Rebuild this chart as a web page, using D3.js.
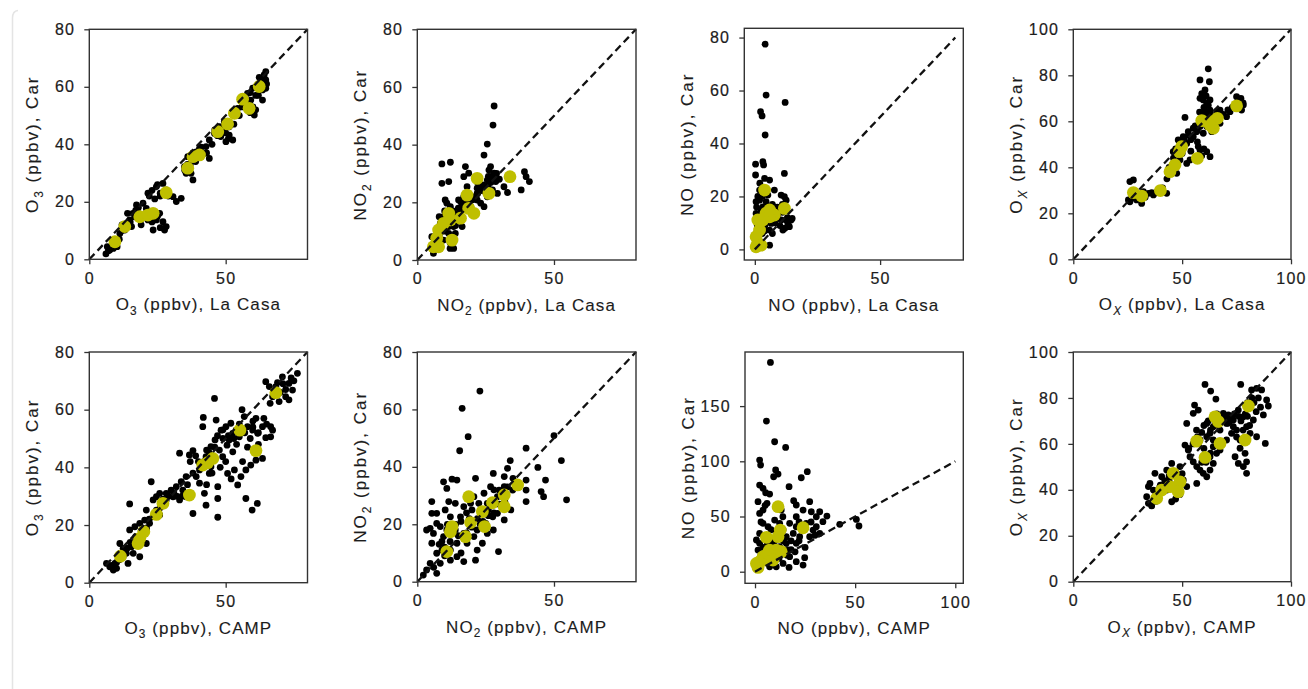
<!DOCTYPE html>
<html>
<head>
<meta charset="utf-8">
<script src="https://cdn.jsdelivr.net/npm/d3@7"></script>
<style>
  html, body { margin: 0; padding: 0; background: #fff; }
  svg { display: block; }
  text { font-family: "Liberation Sans", Arial, sans-serif; fill: #1c1c1c; }
</style>
</head>
<body>
<svg id="chart" width="1308" height="689"></svg>
<script>
// ---------- DATA ----------
// Panel 1: O3, La Casa (x) vs Car (y)
const o3LaCasaAll = [[6.1,1.9],[7.5,3.2],[8.8,3.8],[10.2,4.4],[6.6,4.4],[11.2,9],[13,10.2],[14.8,13.7],[16.7,14.8],[15.5,11.4],
  [17.3,18.9],[19.7,19.5],[20.9,17.7],[22.7,16],[24.6,13.7],[25.8,16],[27,13.1],[28.2,11.4],[27.6,10.2],[23.4,10.2],[21.5,13.7],
  [21.5,23],[24.6,25.3],[27,26.4],[28.2,24.1],[30.7,21.8],[31.9,20.1],[33.7,21.2],[34.9,32.2],[36.1,35.7],[38,27.6],[39.2,37.4],
  [40.4,38.6],[42.2,36.9],[44,35.1],[42.8,39.2],[37.3,29.9],[35.5,29.9],[44,41.5],[45.9,43.8],[47.7,46.1],[49.5,47.9],[51.3,46.1],
  [51.3,43.2],[52.6,41.5],[50.1,40.9],[48.2,42.7],[52.6,50.8],[54.4,52.5],[56.2,55.4],[58,57.7],[59.9,59.5],[59.2,55.4],[59.9,51.9],
  [60.5,50.2],[58,53.1],[61,60],[62.9,61.8],[64.1,64.1],[64.7,62.4],[63.5,58.9],[63.5,55.4],[64.7,59.5],[62.3,63.3],[64.7,65.3],
  [12,12],[14,16],[18,16],[19,14],[24,21],[26,22],[37,33],[39,34],[41,36],[46,45],[48,44],[55,50],[57,54],[61,57],[63,60],
  [7,3],[9,5],[11,7],[12,10],[13,12],[15,13],[16,16],[17,17],[18,18],[20,15],[22,14],[23,13],[25,15],[26,11],[19,12],[22,22],
  [23,24],[25,26],[26,23],[29,22],[35,31],[36,33],[37,36],[38,37],[40,37],[41,39],[43,37],[45,40],[47,43],[49,46],[50,44],
  [51,42],[53,47],[54,51],[56,53],[57,56],[58,55],[59,58],[60,53],[61,52],[62,61],[63,62],[64,63],[65,61],[62,57],[59,51]];
const o3LaCasaMean = [[9.4,6.1],[13,11.4],[18.5,14.8],[21.5,15.4],[23.4,16],[28.2,23.2],[36.1,31.7],[38,35.7],[40.4,36.3],
  [47.1,44.4],[50.7,47.1],[53.2,50.8],[56.2,55.7],[58.6,52.5],[62.3,60.1]];

// Panel 2: NO2, La Casa vs Car
const no2LaCasaAll = [[28.1,53.4],[27.7,46.8],[25.6,40.2],[24.4,36.4],[9,33.3],[12.1,33.9],[17.6,32.4],[11.5,27.2],[9,26.6],[17,28.9],
  [18.8,30.1],[26.8,32.4],[28.1,30.1],[28.7,27.2],[29.3,23.1],[33,23.4],[38,24.3],[39.2,30.6],[39.8,28.9],[41,27.2],[31.7,25.4],
  [25.6,27.7],[23.8,25.4],[21.9,23.1],[19.9,20.8],[17.6,19.7],[15.8,16.2],[14.5,13.9],[13.3,11.6],[11.5,9.2],[9.6,6.9],[7.1,4.6],
  [5.9,2.3],[5.3,8.1],[7.1,10.4],[8.4,12.7],[9.6,15],[10.8,19.7],[10.2,20.8],[12.1,18.5],[13.3,4],[13.9,9.2],[16.4,11.6],[19.5,18.5],
  [21.9,20.8],[23.2,19.7],[24.4,18.5],[20.7,16.2],[17,22],[15.1,20.8],[12.1,15],[11.5,11.6],[25.6,21.9],[27.5,24.3],[26.2,31.2],
  [21.9,24.9],[18.2,25.4],[8,8],[10,10],[14,12],[15,14],[13,17],[16,18],[22,27],[27,29],[24,24],[30,28],[12,6],
  [6,5],[7,6],[8,9],[9,11],[10,13],[11,14],[12,12],[13,14],[14,16],[15,18],[16,20],[17,21],[18,19],[19,20],[20,22],[21,21],
  [22,23],[23,25],[24,26],[25,24],[26,26],[27,27],[28,28],[29,30],[26,29],[10,17],[8,15],[13,8],[12,4]];
const no2LaCasaMean = [[5.9,4.6],[7.8,4.6],[7.1,7.5],[7.8,10.4],[9.6,12.7],[11.5,16.2],[12.1,13.9],[12.7,6.9],[15.8,14.5],
  [18.8,17.9],[20.7,16.2],[18.2,22.5],[21.9,28.3],[26.2,23.1],[33.9,28.9]];

// Panel 3: NO, La Casa vs Car
const noLaCasaAll = [[4.1,77.5],[4.5,58.3],[12.1,55.5],[2.3,52],[2.9,50.4],[4.1,43.2],[0.3,32.2],[3.2,33.1],[3.5,31.9],[0.3,28.1],
  [11.8,28.7],[3.9,26.8],[5.9,26.2],[1.9,22.4],[7.8,22.4],[0.5,18],[1.9,18.6],[4.5,18],[10.5,20.5],[11.8,19.9],[12.5,18.6],[5.2,20.5],
  [0.5,13.6],[1.2,11.1],[1.9,7.3],[5.9,7.3],[6.5,9.8],[5.9,1.6],[10.5,11.1],[11.2,7.3],[13.2,9.8],[13.8,8.6],[14.5,11.1],[14.9,11.7],
  [9.2,13.6],[6.5,16.1],[3.2,16.1],[12.5,11.1],[2.5,15],[1,9],[3,6],[4,9],[8,10],[7,13],[9,16],[11,14],[0.8,4],[2,3],
  [0.5,6],[1.5,8],[2,12],[3,13],[4,11],[5,14],[6,15],[7,17],[8,16],[9,12],[10,9],[12,8],[13,12],[11,17],[0.7,16],[1.2,20],
  [3,20],[2,25],[6,12],[4,7],[7,6]];
const noLaCasaMean = [[3.9,22.4],[11.8,15.5],[7.8,13],[4.5,13.6],[5.9,12.3],[1.2,11.1],[1.9,7.3],[0.5,4.8],[1.2,2.3],[2.5,1.6],
  [0.5,1],[3.2,11.1],[5.9,14.9]];

// Panel 4: Ox, La Casa vs Car
const oxLaCasaAll = [[62,82.8],[58.2,78],[62.5,77.2],[60.5,73.6],[58.2,70],[59.7,69.3],[61.3,67.8],[62.8,69.3],[62.8,64.9],[60.5,64.2],
  [51.3,61.7],[55.1,57],[52.8,55.5],[50.5,53.3],[48.2,51.9],[52.1,50.4],[55.1,53.3],[56.6,55.5],[58.2,57.7],[59.7,54.8],[58.2,47.5],
  [61.3,46.8],[62.8,44.6],[57.4,49],[49,43.2],[52.1,41.7],[53.6,43.2],[45.9,41.7],[43.6,38.8],[47.5,37.4],[40.6,30.1],[42.9,28.7],
  [36.8,28],[34.5,28.7],[32.2,29.4],[29.1,25.8],[26.8,26.5],[25.3,25.8],[27.6,34.5],[26,33.8],[31.4,24.3],[75,70.7],[76.6,69.3],
  [78.1,67.1],[77.3,64.9],[72,64.2],[70.4,62],[67.4,64.9],[65.8,64.2],[65.1,57.7],[67.4,59.1],[63.6,55.5],[61.3,57.7],[49,49],
  [45.9,46.8],[54,52],[57,51],[60,62],[64,61],[43,35],[30,27],[38,29],
  [59,72],[61,71],[60,66],[62,67],[58,64],[61,62],[56,58],[57,56],[53,54],[51,52],[49,51],[47,48],[46,44],[44,40],[50,46],
  [54,47],[59,45],[60,48],[63,63],[66,62],[69,63],[73,66],[76,68],[77,70],[78,68],[71,65],[28,27],[30,28],[33,27],[36,29],
  [39,30],[41,31],[27,28],[26,25]];
const oxLaCasaMean = [[27.6,29],[31.4,27.5],[40,29.9],[44.4,38.1],[46.7,41],[48.7,46.8],[49.8,49],[57,43.9],[59,60.3],[63.6,59.9],
  [64.3,57],[66.2,61.3],[75,66.7],[62.8,58.4]];

// Panel 5: O3, CAMP vs Car
const o3CampAll = [[45.9,63.9],[41.8,57.3],[41.6,54.1],[33.1,44.9],[38,45.8],[36.7,44.3],[22.7,35],[14.8,27.3],[38,24],[47.1,22.7],
  [47.1,29.2],[47.1,33.3],[42.8,26.9],[42.2,31],[40.4,34.5],[39.2,36.8],[41,41.4],[42.8,43.7],[44.6,47.2],[46.1,49.5],[47.7,46],
  [48.9,43.7],[50.5,47.7],[51.3,49.5],[52.6,51.8],[46.5,56.4],[48.3,52.9],[50.1,54.1],[51.9,55.3],[53.8,52.9],[55,50.6],[56.8,57.6],
  [58,54.1],[59.9,52.9],[61.1,57],[61.7,51.8],[63.5,54.1],[64.7,50.3],[66.5,50.6],[67.2,52.9],[66.5,54.1],[67.2,64.5],[64.7,69.7],
  [68.4,68],[70.8,71.4],[73.2,69.1],[74.5,66.8],[76.3,72.6],[72,64.5],[73.2,63.4],[69.6,62.8],[66.3,62.2],[68.4,65.7],[69,69.4],
  [54.4,33.9],[55.6,36.8],[57.4,39.1],[59.2,40.8],[61.1,42.5],[63.5,43.1],[57.4,29.2],[61.6,27.5],[59.7,25.2],[56.2,42],[53.2,39.1],
  [50.7,37.9],[52.6,45.4],[44,37.9],[44.6,40.2],[40.4,39.1],[35.5,36.8],[33.7,35],[31.9,33.3],[30,32.1],[28.2,31],[30.7,29.8],
  [33.1,28.7],[35.5,29.8],[37.3,31],[34.3,32.1],[28.2,28.7],[26.4,27.5],[24.6,25.2],[23.4,22.9],[25.8,23.5],[22.1,20.6],[20.9,18.3],
  [19.7,17.1],[18.5,14.8],[16.7,13.6],[15.5,12.5],[13.6,10.2],[12.4,9],[10.6,7.9],[9.4,6.7],[7.5,5.5],[6.3,6.7],[8.8,4.4],[11.2,13.6],
  [12.4,11.9],[14.8,18.3],[16.7,19.4],[18.5,20.6],[20.3,21.7],[20.9,13.6],[18.5,9],[16.1,10.2],[14.2,6.7],[23.4,28.7],[24.6,29.8],
  [25.8,31],[20.9,25.2],[10,5],[11,8],[14,12],[17,16],[45,44],[43,46],[49,50],[54,48],[58,47],[62,48],[65,55],[60,56],[56,60],
  [8,6],[10,7],[12,10],[13,12],[15,14],[17,15],[19,18],[21,19],[22,22],[24,24],[26,26],[27,29],[29,30],[31,31],[32,30],[34,30],
  [36,34],[38,38],[40,42],[42,42],[44,45],[46,47],[47,51],[49,53],[51,51],[53,50],[55,55],[57,52],[59,50],[60,54],[62,52],
  [64,57],[66,68],[70,66],[71,69],[74,71],[75,70],[72,67],[48,40],[50,42],[52,36],[45,38],[43,34],[39,44],[37,42]];
const o3CampMean = [[11.4,9.2],[17.9,13.6],[18.5,15.4],[20,17.7],[24.6,23.7],[27,27.5],[36.7,30.4],[41.6,40.8],[43.4,41.6],
  [45.3,43.1],[55.2,52.9],[61.1,45.8],[68.4,65.9]];

// Panel 6: NO2, CAMP vs Car
const no2CampAll = [[22.9,66.4],[16.4,60.4],[18.6,50.5],[15.5,45.6],[39.8,46.5],[50,50.9],[52.7,42.2],[54.6,28.5],[46.9,35.4],[45.3,31.4],
  [46.2,29.6],[44.1,39.8],[39.8,35.4],[39.8,31.9],[39.8,27.9],[34,42.2],[33,39.5],[31.8,36.6],[29.9,31.9],[29.7,10.5],[27.8,37.7],
  [26.8,33.1],[21.3,36],[14.5,35.4],[12.7,35.7],[9.6,34.8],[10.8,32.5],[13.9,27.3],[5.3,27.9],[5.3,23.8],[4.7,18.6],[5.3,13.4],
  [4.7,6.4],[3.4,4.1],[2.2,2.3],[7.1,2.9],[8.4,6.4],[7.1,9.9],[9,11],[9.6,15.7],[8.4,19.2],[7.1,23.8],[10.2,25],[12.1,22.6],[10.8,18],
  [13.9,18],[15.8,22.6],[17,26.1],[19.5,27.3],[20.7,29.6],[22.5,27.3],[23.8,23.8],[25.6,27.3],[24.4,30.8],[29.3,29.6],[31.2,26.1],
  [31.8,33.1],[34.9,31.9],[36.7,33.1],[25,20.3],[25.6,16.8],[23.8,13.4],[21.9,11],[21.3,7.5],[17,7],[14.5,8.7],[12.1,7.5],[12.1,11],
  [14.5,13.4],[18.2,13.4],[20.7,15.7],[21.9,18],[17,16.8],[27.6,22.6],[27.8,18],[29.3,23.8],[31.8,21.5],[34.2,25],[5.9,16.8],
  [7.1,20.3],[3.4,18],[11.5,27.9],[9,14],[11,20],[15,16],[19,22],[23,20],[26,25],[28,32],[16,10],[6,5],[10,9],
  [8,13],[10,12],[12,14],[14,20],[16,21],[18,17],[20,19],[22,22],[24,21],[26,23],[28,24],[30,27],[32,28],[33,33],[35,36],[20,25],[18,24]];
const no2CampMean = [[10.8,10.5],[12.7,19.2],[12.1,17.4],[17.6,15.7],[19.5,20.6],[23.8,24.4],[24.6,19.2],[27.5,27.5],[18.8,29.6],
  [31.8,30.2],[31.8,26.1],[36.7,33.7]];

// Panel 7: NO, CAMP vs Car
const noCampAll = [[7.7,189.6],[5.7,136.4],[9.8,117.7],[15.3,112.6],[2.3,101.1],[2.8,96.6],[10.3,92.1],[11.5,88.4],[9.3,86],[26.1,90.6],
  [23.1,85.1],[2.3,78.5],[4,75.5],[5.3,71.5],[7.3,70.3],[17,77],[1.5,63.4],[6,61.9],[19.3,64.3],[20.6,60.4],[27.3,63.4],[24,55.8],
  [28.1,54.3],[32.3,54.3],[35.9,50.4],[33.9,45.3],[42.3,42.9],[50.6,47.4],[51.9,41.4],[30.6,40.7],[32.3,34.7],[2.3,52.8],[4,43.8],
  [2.3,34.7],[0.7,28.7],[1.5,19.6],[2.3,10.6],[5.7,19.6],[7.3,28.7],[10.6,34.7],[12.3,43.8],[13.9,49.8],[17.3,43.8],[19.1,34.7],
  [20.6,25.7],[22.3,31.7],[24,37.7],[25.6,43.8],[20.6,40.7],[15.6,25.7],[17.3,13.6],[14,7.5],[10.6,4.5],[7.3,4.5],[17,3.9],[20.6,9.1],
  [24.8,12.7],[24,6],[27.3,31.7],[30.6,49.8],[9,19.6],[12.3,22.6],[15.6,31.7],[5.7,31.7],[6.5,40.7],[9.8,46.8],[4,55.8],[13.1,55.8],
  [2.3,25.7],[20.6,49.8],[29,37.7],[8,12],[11,14],[14,18],[16,20],[18,28],[6,24],[4,16],[10,28],[12,30],[14,38],[22,45],
  [3,15],[4,22],[6,8],[8,25],[10,22],[12,12],[14,28],[16,15],[18,20],[20,18],[22,28],[25,22],[28,45],[30,33],[3,45],[5,60],[8,38]];
const noCampMean = [[11.5,58.9],[5.7,31.1],[11.5,31.7],[12.6,37.7],[24,39.8],[7.3,19.6],[10.6,19.6],[13.1,18.1],[4,13.6],[2.3,9.1],
  [1.5,3.9],[0.7,7.5],[4.8,10.6],[6.5,16.6],[9,10.6]];

// Panel 8: Ox, CAMP vs Car
const oxCampAll = [[60.5,85.9],[76.9,85.9],[63.1,83],[65.5,79.5],[81.9,83.5],[84.2,84.2],[86.5,83.5],[88.8,79.1],[89.6,76.5],[87.3,72.6],
  [88.2,60.2],[82.7,70.4],[84.2,63.1],[81.2,64.6],[79.6,67.5],[78.1,71.8],[75.8,74.7],[73.5,70.4],[71.2,72.6],[73.5,67.5],[76.6,61.7],
  [74.3,54.4],[75.8,51.5],[78.1,50.1],[79.6,52.2],[78.9,55.9],[76.6,58.1],[79.6,47.2],[68.9,73.3],[67.4,70.4],[64.3,67.5],[62.8,64.6],
  [61.3,63.1],[58.2,61.7],[56.6,66],[55.1,73.3],[55.7,76.9],[57.4,74.7],[52.1,68.9],[51.3,59.5],[52.8,57.3],[53.6,54.4],[55.1,52.2],
  [56.7,50.1],[58.2,48.6],[59.7,47.2],[61.3,45.7],[62.8,48.6],[64.3,51.5],[65.8,55.9],[67.4,57.3],[70.4,61.7],[64.3,58.8],[62.8,54.4],
  [56.7,42.8],[49,50.1],[47.5,47.2],[45.2,51.5],[42.9,48.6],[40.6,45.7],[37.5,47.2],[35.2,42.8],[34.5,41.4],[36.8,39.9],[33.7,37],
  [34.5,34.1],[37.5,37],[39.8,41.4],[42.9,39.9],[45.2,34.8],[47.5,39.9],[50.5,44.3],[52.1,41.4],[64.3,71.8],[61.3,68.9],[67.4,66],
  [70.4,68.9],[72.7,64.6],[75,66],[64.3,61.7],[44,44],[46,42],[38,35],[36,33],[70,72],[72,70],[80,78],[82,80],[84,74],[66,70],
  [38,38],[40,42],[42,44],[44,46],[46,48],[48,45],[50,47],[43,41],[39,37],[41,40],[47,36],[49,38],[53,58],[55,60],[57,63],
  [59,65],[60,68],[62,70],[63,66],[65,68],[66,73],[68,71],[69,70],[71,69],[73,72],[74,73],[76,72],[77,70],[79,73],[80,72],
  [81,68],[83,78],[85,80],[86,76],[78,66],[75,63],[60,58],[61,52],[59,52],[63,56]];
const oxCampMean = [[38.3,36.3],[40.6,39.9],[44.4,41.4],[45.9,47.2],[49,43.5],[48.2,39.2],[56.7,61.2],[60.5,54.1],[65.1,71.8],
  [66.6,69.7],[67.4,60.2],[78.9,61.7],[80.4,76.5]];

// Tick values
const ticks0to80x = [0, 50];
const ticks0to80y = [0, 20, 40, 60, 80];
const ticks0to100x = [0, 50, 100];
const ticks0to100y = [0, 20, 40, 60, 80, 100];
const ticksNOCampY = [0, 50, 100, 150];

// Axis label texts (parts: [main, subscript, rest])
const labelsX = [
  ["O","3"," (ppbv), La Casa"],["NO","2"," (ppbv), La Casa"],["NO",""," (ppbv), La Casa"],["O","X"," (ppbv), La Casa"],
  ["O","3"," (ppbv), CAMP"],["NO","2"," (ppbv), CAMP"],["NO",""," (ppbv), CAMP"],["O","X"," (ppbv), CAMP"]];
const labelsY = [
  ["O","3"," (ppbv), Car"],["NO","2"," (ppbv), Car"],["NO",""," (ppbv), Car"],["O","X"," (ppbv), Car"],
  ["O","3"," (ppbv), Car"],["NO","2"," (ppbv), Car"],["NO",""," (ppbv), Car"],["O","X"," (ppbv), Car"]];

// ---------- LAYOUT ----------
const panels = [
  {all:o3LaCasaAll, mean:o3LaCasaMean, x0:89.3, x1:307.5, y0:29.3, y1:259.3, dx:[0,80], dy:[0,80], tx:ticks0to80x, ty:ticks0to80y, line:80},
  {all:no2LaCasaAll, mean:no2LaCasaMean, x0:417.3, x1:636, y0:29.3, y1:260, dx:[0,80], dy:[0,80], tx:ticks0to80x, ty:ticks0to80y, line:80},
  {all:noLaCasaAll, mean:noLaCasaMean, x0:744.3, x1:963.3, y0:28.3, y1:260, dx:[-4.2,83.2], dy:[-4,83.5], tx:ticks0to80x, ty:ticks0to80y, line:80},
  {all:oxLaCasaAll, mean:oxLaCasaMean, x0:1073.3, x1:1291, y0:29.3, y1:259.3, dx:[0,100], dy:[0,100], tx:ticks0to100x, ty:ticks0to100y, line:100},
  {all:o3CampAll, mean:o3CampMean, x0:89.3, x1:307.5, y0:352, y1:582.7, dx:[0,80], dy:[0,80], tx:ticks0to80x, ty:ticks0to80y, line:80},
  {all:no2CampAll, mean:no2CampMean, x0:417.3, x1:636, y0:352, y1:581.7, dx:[0,80], dy:[0,80], tx:ticks0to80x, ty:ticks0to80y, line:80},
  {all:noCampAll, mean:noCampMean, x0:745, x1:963.3, y0:352, y1:583.3, dx:[-5,104], dy:[-10.5,199], tx:ticks0to100x, ty:ticksNOCampY, line:100},
  {all:oxCampAll, mean:oxCampMean, x0:1073.3, x1:1291, y0:352, y1:581.7, dx:[0,100], dy:[0,100], tx:ticks0to100x, ty:ticks0to100y, line:100}
];

const svg = d3.select("#chart");

// faint container border at left
svg.append("path").attr("d","M12.5,689 V18 Q12.5,11 18,10.5").attr("fill","none")
  .attr("stroke","#e4e4e4").attr("stroke-width",1.5);

function addLabel(g, parts, fontSize, spacing) {
  const t = g.append("text").attr("font-size", fontSize).attr("letter-spacing", spacing)
    .attr("stroke", "#1c1c1c").attr("stroke-width", 0.12);
  t.append("tspan").text(parts[0]);
  if (parts[1]) {
    const s = t.append("tspan").attr("font-size", fontSize*0.7).attr("dy", fontSize*0.25).text(parts[1]);
    if (parts[1] === "X") s.attr("font-style","italic");
    t.append("tspan").attr("dy", -fontSize*0.25).text(parts[2]);
  } else {
    t.append("tspan").text(parts[2]);
  }
  return t;
}

panels.forEach((p, i) => {
  const x = d3.scaleLinear().domain(p.dx).range([p.x0, p.x1]);
  const y = d3.scaleLinear().domain(p.dy).range([p.y1, p.y0]);
  const g = svg.append("g");

  // points
  g.append("g").selectAll("circle").data(p.all).join("circle")
    .attr("cx", d => x(d[0])).attr("cy", d => y(d[1])).attr("r", 3.4).attr("fill", "#000");
  g.append("g").selectAll("circle").data(p.mean).join("circle")
    .attr("cx", d => x(d[0])).attr("cy", d => y(d[1])).attr("r", 6.4).attr("fill", "#bfbf00");

  // 1:1 dashed line
  g.append("line").attr("x1", x(0)).attr("y1", y(0)).attr("x2", x(p.line)).attr("y2", y(p.line))
    .attr("stroke", "#111").attr("stroke-width", 2.3).attr("stroke-dasharray", "7.5,4.5");

  // axes
  const xa = d3.axisBottom(x).tickValues(p.tx).tickSize(5).tickPadding(8).tickFormat(d3.format("d"));
  const ya = d3.axisLeft(y).tickValues(p.ty).tickSize(5).tickPadding(9).tickFormat(d3.format("d"));
  const gx = g.append("g").attr("transform", `translate(0,${p.y1})`).call(xa);
  const gy = g.append("g").attr("transform", `translate(${p.x0},0)`).call(ya);
  [gx, gy].forEach(a => {
    a.select(".domain").remove();
    a.selectAll(".tick line").attr("stroke", "#333").attr("stroke-width", 1.3);
    a.selectAll(".tick text").attr("font-size", 16).attr("letter-spacing", 1.3)
      .attr("font-family", "'Liberation Sans', Arial, sans-serif").attr("fill", "#1c1c1c")
      .attr("stroke", "#1c1c1c").attr("stroke-width", 0.2);
  });

  // frame
  g.append("rect").attr("x", p.x0).attr("y", p.y0).attr("width", p.x1 - p.x0).attr("height", p.y1 - p.y0)
    .attr("fill", "none").attr("stroke", "#333").attr("stroke-width", 1.4);

  // axis labels
  const cx = (p.x0 + p.x1) / 2, cy = (p.y0 + p.y1) / 2;
  addLabel(g, labelsX[i], 17, 1.1).attr("text-anchor", "middle")
    .attr("transform", `translate(${cx},${p.y1 + 51})`);
  addLabel(g, labelsY[i], 17, 2.0).attr("text-anchor", "middle")
    .attr("transform", `translate(${p.x0 - 51},${cy}) rotate(-90)`);
});
</script>
</body>
</html>
